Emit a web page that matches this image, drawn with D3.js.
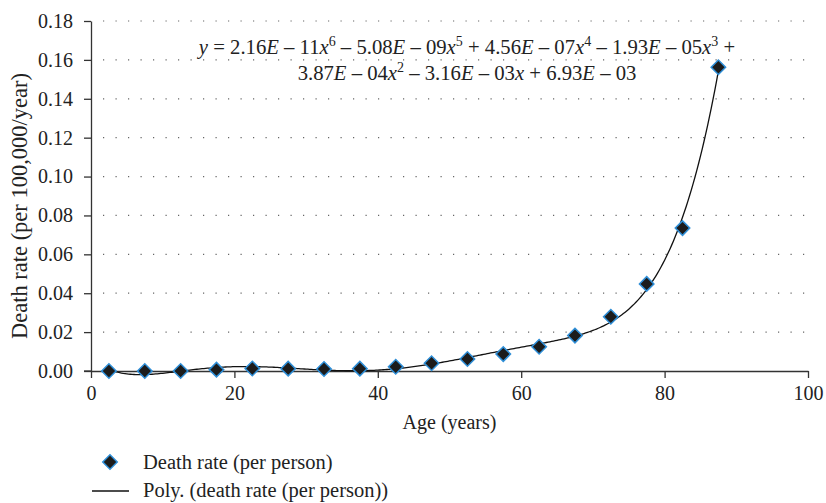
<!DOCTYPE html>
<html lang="en">
<head>
<meta charset="utf-8">
<title>Death rate by age</title>
<style>
  body { margin: 0; background: #fff; }
  text { font-family: "Liberation Serif", "DejaVu Serif", serif; fill: #222; }
</style>
</head>
<body>
<script src="https://cdn.jsdelivr.net/npm/d3@7/dist/d3.min.js"></script>
<script>

// data
var ages = [2.5, 7.5, 12.5, 17.5, 22.5, 27.5, 32.5, 37.5, 42.5, 47.5, 52.5, 57.5, 62.5, 67.5, 72.5, 77.5, 82.5, 87.5];
var deathRates = [0.0000, 0.0000, 0.0000, 0.0007, 0.0013, 0.0012, 0.0010, 0.0012, 0.0022, 0.0040, 0.0062, 0.0087, 0.0125, 0.0182, 0.0279, 0.0448, 0.0735, 0.1562];
var xTicks = [0, 20, 40, 60, 80, 100];
var yTicks = [0, 0.02, 0.04, 0.06, 0.08, 0.10, 0.12, 0.14, 0.16, 0.18];
var seriesName = "Death rate (per person)";
var trendName = "Poly. (death rate (per person))";

var width = 826, height = 503;
var padLeft = 91, padRight = 808, padTop = 21, padBottom = 371;

var svg = d3.select("body").append("svg").attr("width", width).attr("height", height);

var x = d3.scaleLinear().domain([0, 100]).range([padLeft, padRight]);
var y = d3.scaleLinear().domain([0, 0.18]).range([padBottom, padTop]);

// dotted gridlines
svg.append("g").selectAll("line")
  .data(yTicks.filter(function (d) { return d > 0; }))
  .enter().append("line")
  .attr("x1", padLeft + 12).attr("x2", padRight)
  .attr("y1", function (d) { return y(d); })
  .attr("y2", function (d) { return y(d); })
  .attr("stroke", "#666")
  .attr("stroke-width", 1.2)
  .attr("stroke-dasharray", "1.2,11.3");

// axes
var xAxis = d3.axisBottom(x).tickValues(xTicks).tickSize(7).tickPadding(8).tickSizeOuter(0);
var yAxis = d3.axisLeft(y).tickValues(yTicks).tickSize(7).tickPadding(11).tickFormat(d3.format(".2f")).tickSizeOuter(0);

var gx = svg.append("g").attr("transform", "translate(0," + padBottom + ")").call(xAxis);
var gy = svg.append("g").attr("transform", "translate(" + padLeft + ",0)").call(yAxis);
[gx, gy].forEach(function (g) {
  g.select(".domain").attr("stroke", "#333").attr("stroke-width", 1.3);
  g.selectAll(".tick line").attr("stroke", "#333").attr("stroke-width", 1.3);
  g.selectAll(".tick text").attr("font-family", "Liberation Serif").attr("font-size", 20).attr("fill", "#222");
});
// x axis line runs a little past the y axis on the left
svg.append("line").attr("x1", padLeft - 7).attr("x2", padLeft)
  .attr("y1", padBottom).attr("y2", padBottom).attr("stroke", "#333").attr("stroke-width", 1.3);

// axis titles
svg.append("text")
  .attr("x", (padLeft + padRight) / 2).attr("y", 429)
  .attr("text-anchor", "middle").style("font-size", "20px")
  .text("Age (years)");
svg.append("text")
  .attr("transform", "translate(27,206) rotate(-90)")
  .attr("text-anchor", "middle").style("font-size", "22.5px")
  .text("Death rate (per 100,000/year)");

// polynomial trendline (order 6 least squares fit, like the spreadsheet did)
function polyFit(xs, ys, order) {
  var x0 = d3.mean(xs), s = (d3.max(xs) - d3.min(xs)) / 2;
  var n = order + 1;
  var A = [], b = [];
  for (var i = 0; i < n; i++) { A.push(new Array(n).fill(0)); b.push(0); }
  xs.forEach(function (xv, k) {
    var t = (xv - x0) / s;
    for (var i = 0; i < n; i++) {
      b[i] += Math.pow(t, i) * ys[k];
      for (var j = 0; j < n; j++) A[i][j] += Math.pow(t, i + j);
    }
  });
  for (var c = 0; c < n; c++) {
    var p = c;
    for (var r = c + 1; r < n; r++) if (Math.abs(A[r][c]) > Math.abs(A[p][c])) p = r;
    var tmp = A[c]; A[c] = A[p]; A[p] = tmp;
    var tb = b[c]; b[c] = b[p]; b[p] = tb;
    for (var r2 = c + 1; r2 < n; r2++) {
      var f = A[r2][c] / A[c][c];
      for (var j2 = c; j2 < n; j2++) A[r2][j2] -= f * A[c][j2];
      b[r2] -= f * b[c];
    }
  }
  var coef = new Array(n).fill(0);
  for (var i2 = n - 1; i2 >= 0; i2--) {
    var sum = b[i2];
    for (var j3 = i2 + 1; j3 < n; j3++) sum -= A[i2][j3] * coef[j3];
    coef[i2] = sum / A[i2][i2];
  }
  return function (xv) {
    var t = (xv - x0) / s, v = 0;
    for (var i = n - 1; i >= 0; i--) v = v * t + coef[i];
    return v;
  };
}
var fit = polyFit(ages, deathRates, 6);
var trendX = d3.range(ages[0], ages[ages.length - 1] + 0.01, 0.25);

svg.append("path")
  .datum(trendX)
  .attr("fill", "none")
  .attr("stroke", "#111")
  .attr("stroke-width", 1.3)
  .attr("d", d3.line().x(function (d) { return x(d); }).y(function (d) { return y(fit(d)); }));

// markers
var diamond = d3.symbol().type(d3.symbolSquare).size(105);
svg.append("g").selectAll("path")
  .data(ages)
  .enter().append("path")
  .attr("d", diamond)
  .attr("transform", function (d, i) { return "translate(" + x(d) + "," + y(deathRates[i]) + ") rotate(45)"; })
  .attr("fill", "#1c1c1c")
  .attr("stroke", "#2f8fd8")
  .attr("stroke-width", 1.5);

// equation
function eqLine(yPos, parts) {
  var t = svg.append("text").attr("x", 467).attr("y", yPos).attr("text-anchor", "middle").style("font-size", "20.7px");
  parts.forEach(function (p) {
    var ts = t.append("tspan").text(p[0]);
    if (p[1] === "i") ts.style("font-style", "italic");
    if (p[1] === "s") ts.attr("dy", -8).style("font-size", "14px");
    if (p[1] === "d") ts.attr("dy", 8);
  });
}
eqLine(54, [["y", "i"], [" = 2.16"], ["E", "i"], [" – 11"], ["x", "i"], ["6", "s"], [" – 5.08", "d"], ["E", "i"], [" – 09"], ["x", "i"], ["5", "s"],
  [" + 4.56", "d"], ["E", "i"], [" – 07"], ["x", "i"], ["4", "s"], [" – 1.93", "d"], ["E", "i"], [" – 05"], ["x", "i"], ["3", "s"], [" +", "d"]]);
eqLine(80, [["3.87"], ["E", "i"], [" – 04"], ["x", "i"], ["2", "s"], [" – 3.16", "d"], ["E", "i"], [" – 03"], ["x", "i"], [" + 6.93"], ["E", "i"], [" – 03"]]);

// legend
svg.append("path")
  .attr("d", diamond)
  .attr("transform", "translate(110,462) rotate(45)")
  .attr("fill", "#1c1c1c").attr("stroke", "#2f8fd8").attr("stroke-width", 1.5);
svg.append("text").attr("x", 143).attr("y", 469).style("font-size", "20.5px").text(seriesName);
svg.append("line").attr("x1", 92).attr("x2", 129).attr("y1", 491).attr("y2", 491)
  .attr("stroke", "#111").attr("stroke-width", 1.3);
svg.append("text").attr("x", 143).attr("y", 497).style("font-size", "20.5px").text(trendName);

</script>
</body>
</html>
